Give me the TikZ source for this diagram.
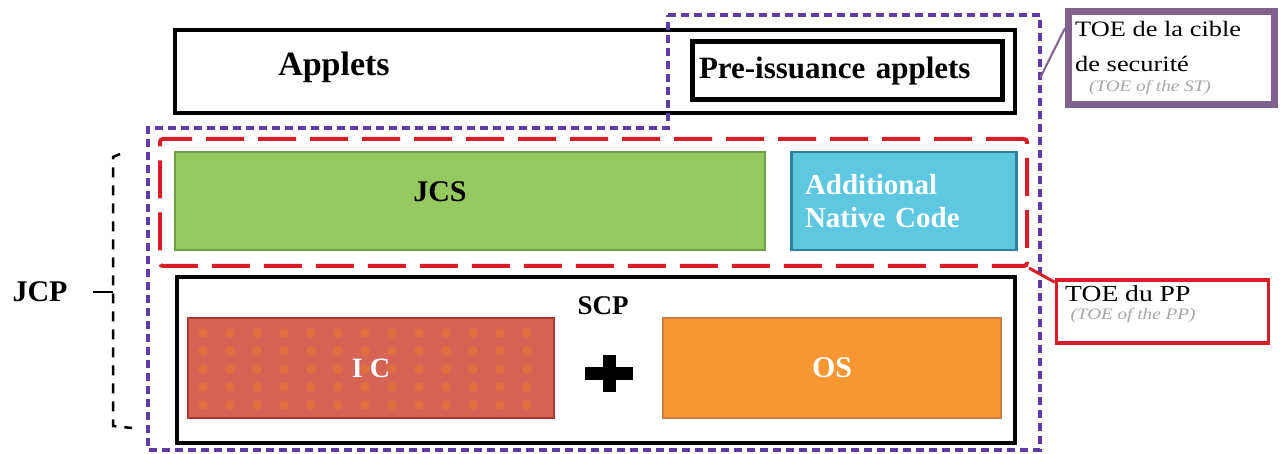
\documentclass[tikz,border=0pt]{standalone}
\usepackage{fontspec}
\setmainfont{Liberation Serif}
\newfontfamily\wideserif[FakeStretch=1.2]{Liberation Serif}
\usepackage{tikz}
\usetikzlibrary{positioning}
\definecolor{stviolet}{RGB}{95,60,165}
\definecolor{tagviolet}{RGB}{128,96,140}
\definecolor{toered}{RGB}{215,30,40}
\definecolor{jcsgreen}{RGB}{150,200,95}
\definecolor{jcsedge}{RGB}{110,160,70}
\definecolor{ancblue}{RGB}{95,200,225}
\definecolor{ancedge}{RGB}{40,130,160}
\definecolor{icred}{RGB}{214,100,85}
\definecolor{icedge}{RGB}{175,55,50}
\definecolor{icdot}{RGB}{232,120,45}
\definecolor{osorange}{RGB}{248,150,50}
\definecolor{osedge}{RGB}{205,125,60}
\definecolor{notegray}{RGB}{165,165,165}
\tikzset{
  frame/.style={draw,line width=4pt,inner sep=0pt},
  block/.style={draw,line width=2.5pt,inner sep=0pt,text=white,
    font=\bfseries\fontsize{29}{33}\selectfont},
  lbl/.style={font=\bfseries\fontsize{30}{34}\selectfont},
  tagtext/.style={inner sep=0pt,font=\wideserif\fontsize{22}{35}\selectfont},
  note/.style={inner sep=0pt,text=notegray,
    font=\wideserif\itshape\fontsize{16}{18}\selectfont},
  brk/.style={line width=2.5pt,dash pattern=on 10pt off 8pt}
}

\begin{document}
\begin{tikzpicture}[x=1pt,y=-1pt]
  \useasboundingbox (0,0) rectangle (1282,454);

  % applets layer
  \node[frame,minimum width=840pt,minimum height=83pt] (applets) at (595,71.5) {};
  \node[font=\bfseries\fontsize{34}{40}\selectfont] (appletslbl) at (334,67) {Applets};
  \node[frame,line width=5pt,minimum width=310pt,minimum height=58pt,
    text width=296pt,align=left,font=\bfseries\fontsize{31}{36}\selectfont]
    (pre) at (847,71) {Pre-issuance applets};

  % TOE of the PP: red dashed frame
  \node[draw=toered,line width=4pt,dash pattern=on 38pt off 14pt,rounded corners=3pt,
    minimum width=867pt,minimum height=127pt] (toepp) at (593.5,202.5) {};

  % JCS and native code
  \node[block,fill=jcsgreen,draw=jcsedge,minimum width=590pt,minimum height=98pt]
    (jcs) at (470,201) {};
  \node[lbl] (jcslbl) at ([xshift=-30pt,yshift=9pt]jcs.center) {JCS};
  \node[block,fill=ancblue,draw=ancedge,minimum width=225pt,minimum height=98pt,
    text width=198pt,align=left] (anc) at (904,201) {Additional\\Native Code};

  % SCP = IC + OS
  \node[frame,line width=4.5pt,minimum width=838pt,minimum height=166pt] (scp) at (596,360) {};
  \node[lbl,font=\bfseries\fontsize{27}{30}\selectfont] (scplbl) at (603,306) {SCP};
  \node[block,fill=icred,draw=icedge,minimum width=366pt,minimum height=100pt] (ic) at (371,368) {};
  \foreach \i in {0,...,12}
    \foreach \j in {0,...,4}
      \fill[icdot,opacity=0.5] (203+27*\i,333+18*\j) circle (5pt);
  \node[block,draw=none,font=\bfseries\fontsize{28}{30}\selectfont] (iclbl) at (ic.center) {I C};
  \node[block,fill=osorange,draw=osedge,minimum width=338pt,minimum height=100pt,
    font=\bfseries\fontsize{30}{33}\selectfont] (os) at (832,368) {OS};
  \fill (585,367) rectangle (633,380);
  \fill (603,355) rectangle (616,392);

  % TOE of the ST: violet dashed outline
  \draw[stviolet,line width=3.5pt,dash pattern=on 8pt off 5pt]
    (668,15) -- (1040,15) -- (1040,450) -- (148,450) -- (148,128) -- (668,128) -- cycle;

  % tags on the right
  \node[draw=tagviolet,line width=7pt,minimum width=206pt,minimum height=93pt] (toest) at (1171.5,58) {};
  \node[tagtext,anchor=north west,align=left] (sttxt) at (1075,21) {TOE de la cible\\de securité};
  \node[note] (stnote) at (1150,88) {(TOE of the ST)};
  \node[draw=toered,line width=3.5pt,minimum width=212pt,minimum height=63pt] (pptag) at (1162.5,311.5) {};
  \node[tagtext,anchor=west,font=\wideserif\fontsize{23}{26}\selectfont] (pptxt) at (1065,294) {TOE du PP};
  \node[note] (ppnote) at (1133,316) {(TOE of the PP)};

  \coordinate (stedge) at (1040,78);
  \draw[tagviolet,line width=2pt] (stedge) -- ([yshift=-20pt]toest.north west);
  \draw[toered,line width=3pt] (toepp.south east) -- ([yshift=-4pt]pptag.north west);

  % JCP bracket
  \node[lbl] (jcp) at (40,292) {JCP};
  \coordinate (jcpmid) at (113,292);
  \draw[brk] (120,154) -- (113,157) -- (113,426) -- (132,428);
  \draw[line width=2pt] ([xshift=22pt]jcp.east) -- (jcpmid);
\end{tikzpicture}
\end{document}
